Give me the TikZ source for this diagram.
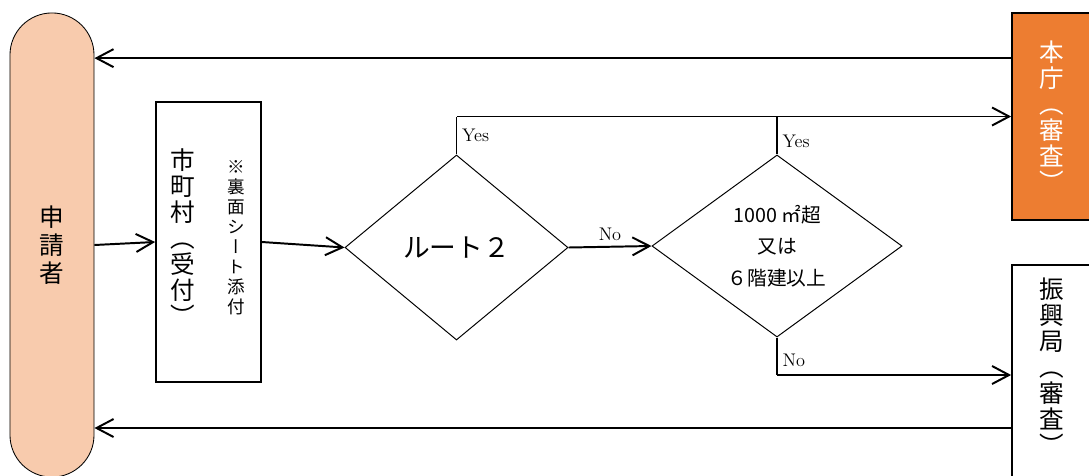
\documentclass[tikz,border=0pt]{standalone}
\usepackage{fontspec}
\newfontfamily\jpfont{Noto Sans CJK JP}
\newfontfamily\jpvfont[RawFeature=+vert]{Noto Sans CJK JP}
\usetikzlibrary{shapes.geometric,arrows.meta}
\definecolor{peach}{HTML}{F8CBAD}
\definecolor{honcho}{HTML}{ED7D31}

\begin{document}
\begin{tikzpicture}[
            x=0.025cm, y=-0.025cm,
            every node/.style={font=\jpfont},
            actor/.style={
                rectangle,
                draw=black,
                fill=peach,
                line width=0.6pt,
                rounded corners=1.05cm,
                minimum width=2.1cm,
                minimum height=11.6cm,
                align=center,
                font=\jpvfont\fontsize{17.5}{20}\selectfont
            },
            office/.style={
                rectangle,
                draw=black,
                line width=1.2pt,
                inner sep=0pt,
                align=center,
                font=\jpvfont\fontsize{17.5}{18.5}\selectfont
            },
            decision/.style={
                diamond,
                draw=black,
                line width=0.7pt,
                inner sep=0pt,
                align=center
            },
            vnote/.style={
                align=center,
                font=\jpvfont\fontsize{12.5}{14.2}\selectfont
            },
            line/.style={
                line width=1.4pt
            },
            arrow/.style={
                -{Straight Barb[length=4.25mm,width=4.5mm]},
                line width=1.4pt
            },
            note/.style={
                font=\rmfamily\fontsize{13}{15}\selectfont
            }
        ]
            \useasboundingbox (0,0) rectangle (1089,475);

            % Applicant
            \node[actor] (applicant) at (52,245) {申\\請\\者};

            % Municipality
            \node[office, minimum width=2.625cm, minimum height=7cm] (city) at (208.5,242) {};
            \node[office, draw=none] (citytext) at (183,237) {市\\町\\村\\（\\受\\付\\）};
            \node[vnote] (citynote) at (236,238) {※\\裏\\面\\シ\\ー\\ト\\添\\付};

            % Decisions
            \node[decision, minimum width=5.575cm, minimum height=4.625cm,
                font=\jpfont\fontsize{19}{22}\selectfont] (route) at (456.5,247.5) {ルート２};
            \node[decision, minimum width=6.25cm, minimum height=4.55cm,
                font=\jpfont\fontsize{14}{22.5}\selectfont] (cond) at (777,246) {1000 ㎡超\\又は\\６階建以上};

            % Reviewing offices
            \node[office, fill=honcho, text=white, minimum width=2cm, minimum height=5.175cm] (hq) at (1052,116.5) {本\\庁\\（\\審\\査\\）};
            \node[office, minimum width=2cm, minimum height=5.5cm] (branch) at (1052,375) {};
            \node[office, draw=none] (branchtext) at (1052,366) {振\\興\\局\\（\\審\\査\\）};

            % Application flow
            \draw[arrow] (applicant.east) -- (city.west);
            \draw[arrow] (city.east) -- (route.west);
            \draw[arrow] (route.east) -- node[note, above] {No} (cond.west);

            % Yes branches
            \draw[line] (route.north) -- node[note, right] {Yes} (route.north |- hq.west);
            \draw[arrow] (route.north |- hq.west) -- (hq.west);
            \draw[line] (cond.north) -- node[note, right, pos=0.35] {Yes} (cond.north |- hq.west);

            % No branch
            \draw[line] (cond.south) -- node[note, right, pos=0.6] {No} (cond.south |- branch.west);
            \draw[arrow] (cond.south |- branch.west) -- (branch.west);

            % Results back to applicant
            \coordinate (hqout) at ([yshift=-1.15cm]hq.north west);
            \coordinate (branchout) at ([yshift=-1.325cm]branch.west);
            \draw[arrow] (hqout) -- (hqout -| applicant.east);
            \draw[arrow] (branchout) -- (branchout -| applicant.east);
        \end{tikzpicture}
\end{document}
